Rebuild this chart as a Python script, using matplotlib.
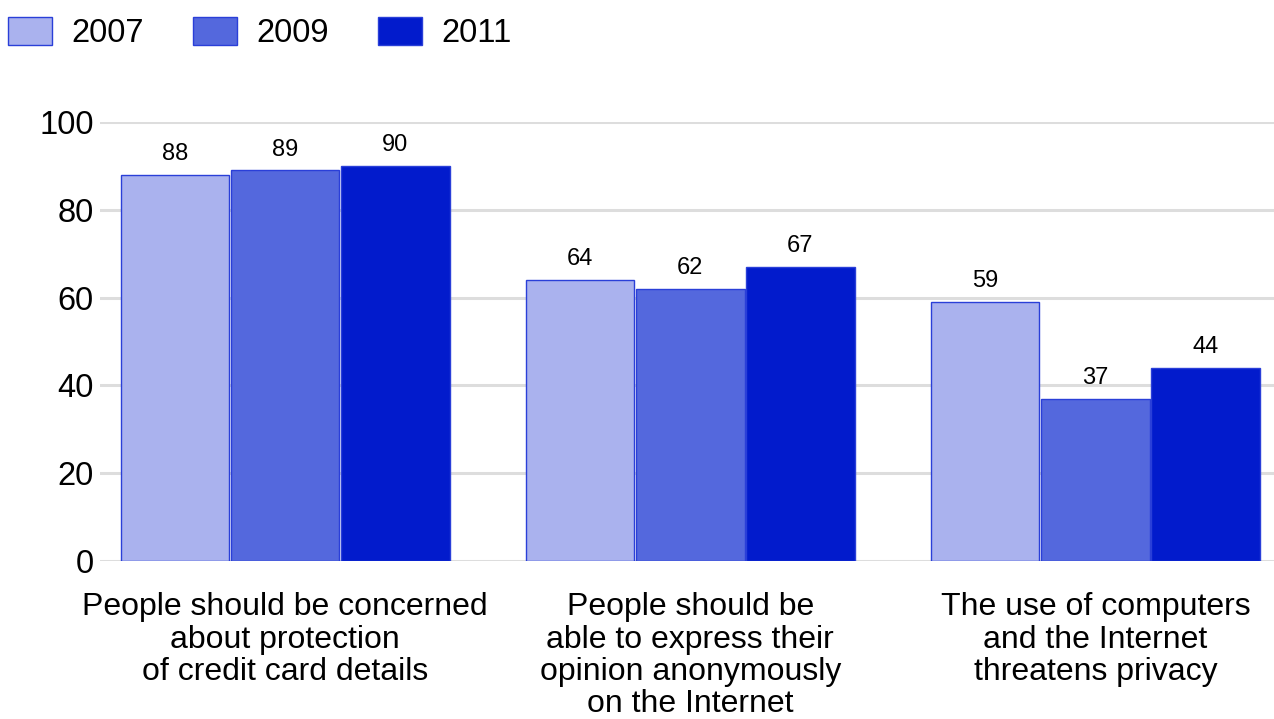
import matplotlib.pyplot as plt
import numpy as np

plt.rcParams['font.family'] = ['Liberation Sans', 'DejaVu Sans']

categories = ['People should be concerned\nabout protection\nof credit card details',
              'People should be\nable to express their\nopinion anonymously\non the Internet',
              'The use of computers\nand the Internet\nthreatens privacy']
years = ['2007', '2009', '2011']
v2007 = [88, 64, 59]
v2009 = [89, 62, 37]
v2011 = [90, 67, 44]
colors = ['#aab2ee', '#5468dd', '#021bcc']

fig = plt.figure(figsize=(12.74, 7.19), dpi=100)
ax = fig.add_axes([100 / 1274, 1 - 561 / 719, 1 - 100 / 1274, (561 - 122) / 719])

x = np.arange(len(categories))
w = 0.268
step = 0.272
for i, (vals, lab, c) in enumerate(zip([v2007, v2009, v2011], years, colors)):
    pos = x + (i - 1) * step
    bars = ax.bar(pos, vals, w, color=c, edgecolor='#2a3fd8', linewidth=1, label=lab, zorder=3)
    for b, v in zip(bars, vals):
        ax.annotate(str(v), (b.get_x() + b.get_width() / 2, v), xytext=(0, 7),
                    textcoords='offset points', ha='center', va='bottom', fontsize=17)

ax.set_xlim(-0.457, 2.441)
ax.set_ylim(0, 100)
ax.set_yticks([0, 20, 40, 60, 80, 100])
ax.yaxis.grid(True, color='#dddddd', linewidth=2.2, zorder=0)
ax.set_axisbelow(True)
for s in ax.spines.values():
    s.set_visible(False)
ax.tick_params(axis='y', length=0, pad=4.5, labelsize=23.5)
ax.set_xticks(x)
ax.set_xticklabels(categories, fontsize=23, linespacing=1.1)
ax.tick_params(axis='x', length=0, pad=22.5)

fig.legend(loc='upper left', bbox_to_anchor=(0.006, 0.977), ncol=3, frameon=False,
           fontsize=23.5, handlelength=1.35, handleheight=0.95, handletextpad=0.6,
           columnspacing=1.5, borderpad=0, borderaxespad=0)

fig.savefig('out.png', dpi=100)
